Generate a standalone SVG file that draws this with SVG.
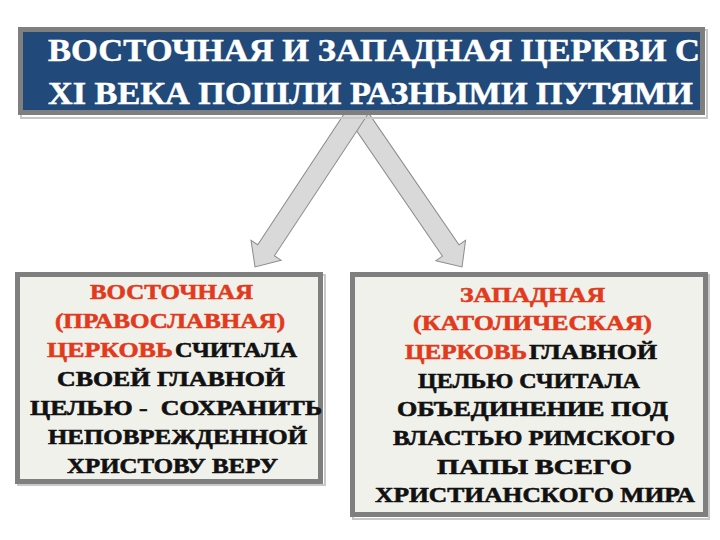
<svg xmlns="http://www.w3.org/2000/svg" width="720" height="540" viewBox="0 0 720 540">
<style>
text{font-weight:bold;}
.title{fill:#ffffff;stroke:#ffffff;stroke-width:0.5;font-size:31px;}
.body{fill:#111111;stroke:#111111;stroke-width:0.6;font-size:22px;}
.red{fill:#E23A1C;stroke:#E23A1C;}
.box{fill:#F1F1EC;stroke:#7F7F7F;stroke-width:5;}
.shadow{fill:none;stroke:#C8C8C8;stroke-width:2;}
.arrow{fill:#D9D9D9;stroke:#8C8C8C;stroke-width:1;}
</style>
<rect width="720" height="540" fill="#ffffff"/>
<g id="connectors">
  <path class="arrow" transform="translate(353,108) rotate(55.56)" d="M0,-10 L172.8,-10 L172.8,-18 L192.8,0 L172.8,18 L172.8,10 L0,10 Z"/>
  <path class="arrow" transform="translate(360,108) rotate(123.44)" d="M0,-10 L170.5,-10 L170.5,-18 L190.5,0 L170.5,18 L170.5,10 L0,10 Z"/>
</g>
<g font-family="Liberation Serif, DejaVu Serif, serif">
<g id="title">
  <rect class="shadow" x="21" y="30" width="686" height="88"/>
  <rect x="20.5" y="29.5" width="682" height="83" fill="#21497A" stroke="#7F7F7F" stroke-width="5"/>
  <text class="title" x="48" y="61" textLength="652" lengthAdjust="spacingAndGlyphs">ВОСТОЧНАЯ И ЗАПАДНАЯ ЦЕРКВИ С</text>
  <text class="title" x="48" y="104" textLength="645" lengthAdjust="spacingAndGlyphs">XI ВЕКА ПОШЛИ РАЗНЫМИ ПУТЯМИ</text>
</g>
<g id="east">
  <rect class="shadow" x="18" y="275" width="307" height="210"/>
  <rect class="box" x="17.5" y="274.5" width="303" height="207"/>
  <text class="body red" x="90" y="299" textLength="163" lengthAdjust="spacingAndGlyphs">ВОСТОЧНАЯ</text>
  <text class="body red" x="55" y="328" textLength="230" lengthAdjust="spacingAndGlyphs">(ПРАВОСЛАВНАЯ)</text>
  <text class="body red" x="47" y="357" textLength="126" lengthAdjust="spacingAndGlyphs">ЦЕРКОВЬ</text>
  <text class="body" x="175" y="357" textLength="122" lengthAdjust="spacingAndGlyphs">СЧИТАЛА</text>
  <text class="body" x="57" y="386" textLength="228" lengthAdjust="spacingAndGlyphs">СВОЕЙ ГЛАВНОЙ</text>
  <text class="body" x="30" y="415" textLength="292" lengthAdjust="spacingAndGlyphs" xml:space="preserve">ЦЕЛЬЮ -  СОХРАНИТЬ</text>
  <text class="body" x="48" y="444" textLength="259" lengthAdjust="spacingAndGlyphs">НЕПОВРЕЖДЕННОЙ</text>
  <text class="body" x="67" y="473" textLength="211" lengthAdjust="spacingAndGlyphs">ХРИСТОВУ ВЕРУ</text>
</g>
<g id="west">
  <rect class="shadow" x="353" y="275" width="356" height="244"/>
  <rect class="box" x="352.5" y="274.5" width="353" height="240"/>
  <text class="body red" x="460" y="301.5" textLength="145" lengthAdjust="spacingAndGlyphs">ЗАПАДНАЯ</text>
  <text class="body red" x="413" y="330.2" textLength="239" lengthAdjust="spacingAndGlyphs">(КАТОЛИЧЕСКАЯ)</text>
  <text class="body red" x="405" y="358.9" textLength="122" lengthAdjust="spacingAndGlyphs">ЦЕРКОВЬ</text>
  <text class="body" x="529" y="358.9" textLength="128" lengthAdjust="spacingAndGlyphs">ГЛАВНОЙ</text>
  <text class="body" x="418" y="387.6" textLength="222" lengthAdjust="spacingAndGlyphs">ЦЕЛЬЮ СЧИТАЛА</text>
  <text class="body" x="397" y="416.3" textLength="271" lengthAdjust="spacingAndGlyphs">ОБЪЕДИНЕНИЕ ПОД</text>
  <text class="body" x="393" y="445" textLength="282" lengthAdjust="spacingAndGlyphs">ВЛАСТЬЮ РИМСКОГО</text>
  <text class="body" x="437" y="473.7" textLength="195" lengthAdjust="spacingAndGlyphs">ПАПЫ ВСЕГО</text>
  <text class="body" x="375" y="502.4" textLength="320" lengthAdjust="spacingAndGlyphs">ХРИСТИАНСКОГО МИРА</text>
</g>
</g>
</svg>
